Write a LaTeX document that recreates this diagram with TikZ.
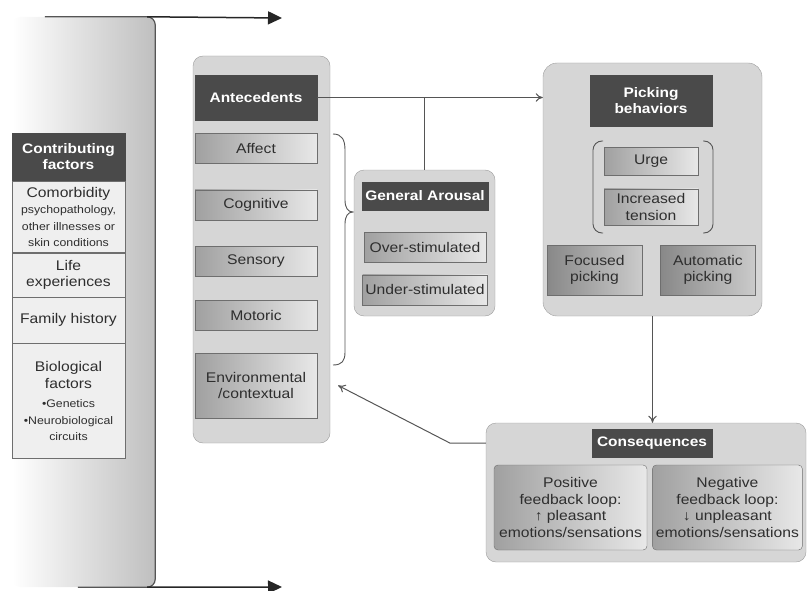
\documentclass[tikz,border=0pt]{standalone}
\usepackage{fontspec}
\setmainfont{Liberation Sans}[FakeStretch=1.12]
\usepackage{tikz}
\usetikzlibrary{arrows.meta,positioning}
\definecolor{hdrfill}{HTML}{4A4A4A}
\definecolor{panelfill}{HTML}{D6D6D6}
\definecolor{panelline}{HTML}{9C9C9C}
\definecolor{itemdark}{HTML}{A0A0A0}
\definecolor{itemlight}{HTML}{E8E8E8}
\definecolor{itemline}{HTML}{6E6E6E}
\definecolor{cffill}{HTML}{EFEFEF}
\definecolor{txt}{HTML}{2E2E2E}
\definecolor{lineclr}{HTML}{555555}
\newcommand\bodyfont{\fontsize{14}{16.5}\selectfont}
\newcommand\hdrfont{\fontsize{13.8}{16.5}\selectfont\bfseries}
\newcommand\smalltxt{\fontsize{11}{12.5}\selectfont}

\begin{document}
\begin{tikzpicture}[
x=1pt,y=-1pt,
panel/.style={draw=panelline,fill=panelfill,rounded corners=10pt},
hdr/.style={draw=hdrfill,fill=hdrfill,text=white,font=\hdrfont,align=center,inner sep=1pt},
item/.style={draw=itemline,left color=itemdark,right color=itemlight,text=txt,font=\bodyfont,align=center,inner sep=1pt},
darkitem/.style={item,left color=itemdark!85!black,right color=itemdark!55!white},
cfbox/.style={draw=itemline,fill=cffill,text=txt,font=\bodyfont,align=center,minimum width=113pt,inner sep=1pt},
paren/.style={draw=lineclr,line width=0.9pt,rounded corners=9pt},
arr/.style={-{To[length=2.5mm,width=3mm]},line width=1pt,color=lineclr},
bigarr/.style={-{Triangle[length=14pt,width=13pt]},line width=1.5pt,color=black!85}
]
\useasboundingbox (0,0) rectangle (808,591);

\node[minimum width=143pt,minimum height=570pt,rounded corners=8pt,left color=white,right color=black!25] (col) at (83.5,302) {};
\draw[lineclr,line width=1.2pt,rounded corners=8pt] ([xshift=33pt]col.north west)--(col.north east)--(col.south east)--([xshift=66pt]col.south west);
\coordinate (toptip) at (282,18);
\coordinate (bottip) at (282,587);
\draw[bigarr] ([xshift=-8pt]col.north east)--(toptip);
\draw[bigarr] ([xshift=-8pt]col.south east)--(bottip);

\node[hdr,minimum width=113pt,minimum height=47pt] (cfhead) at (68.5,156.5) {Contributing\\factors};
\node[cfbox,minimum height=71pt,below=1pt of cfhead] (como) {Comorbidity\\\smalltxt psychopathology,\\\smalltxt other illnesses or\\\smalltxt skin conditions};
\node[cfbox,minimum height=44pt,below=0pt of como] (life) {Life\\experiences};
\node[cfbox,minimum height=46pt,below=0pt of life] (fam) {Family history};
\node[cfbox,minimum height=115pt,below=0pt of fam] (bio) {Biological\\factors\\[3pt]\smalltxt \textbullet Genetics\\\smalltxt \textbullet Neurobiological\\\smalltxt circuits};

\node[panel,minimum width=137pt,minimum height=387pt] (antepanel) at (261.5,249.5) {};
\node[hdr,minimum width=122pt,minimum height=45pt] (antehead) at (256,97.5) {Antecedents};
\node[item,minimum width=122pt,minimum height=30pt,below=13pt of antehead] (affect) {Affect};
\node[item,minimum width=122pt,minimum height=30pt,below=26pt of affect] (cogn) {Cognitive};
\node[item,minimum width=122pt,minimum height=30pt,below=26pt of cogn] (sens) {Sensory};
\node[item,minimum width=122pt,minimum height=30pt,below=24pt of sens] (motor) {Motoric};
\node[item,minimum width=122pt,minimum height=65pt,below=22pt of motor] (env) {Environmental\\/contextual};
\draw[paren,rounded corners=0pt] (333,134) .. controls (342,134) and (345,140) .. (345,150)--(345,200) .. controls (345,208) and (348,212) .. (353,212) .. controls (348,212) and (345,216) .. (345,224)--(345,352) .. controls (345,361) and (342,365) .. (333,365);

\node[panel,minimum width=141pt,minimum height=146pt] (arpanel) at (424.5,243) {};
\node[hdr,minimum width=126pt,minimum height=28pt] (arhead) at (425,196) {General Arousal};
\node[item,minimum width=122pt,minimum height=30pt,below=22pt of arhead] (over) {Over-stimulated};
\node[item,minimum width=125pt,minimum height=30pt,below=12pt of over] (under) {Under-stimulated};

\node[panel,minimum width=219pt,minimum height=253pt,rounded corners=14pt] (pkpanel) at (652.5,189.5) {};
\node[hdr,minimum width=122pt,minimum height=51pt] (pkhead) at (651,100.5) {Picking\\behaviors};
\node[item,minimum width=94pt,minimum height=28pt,below=21pt of pkhead] (urge) {Urge};
\node[item,minimum width=94pt,minimum height=36pt,below=13pt of urge] (tension) {Increased\\tension};
\draw[paren] (603,141)--(593,141)--(593,233)--(603,233);
\draw[paren] (703,141)--(713,141)--(713,233)--(703,233);
\node[darkitem,minimum width=95pt,minimum height=50pt] (focus) at (594.5,270) {Focused\\picking};
\node[darkitem,minimum width=95pt,minimum height=50pt,right=18pt of focus] (auto) {Automatic\\picking};

\node[panel,minimum width=320pt,minimum height=139pt] (cqpanel) at (646,492.5) {};
\node[hdr,minimum width=120pt,minimum height=28pt] (cqhead) at (652,443) {Consequences};
\node[item,rounded corners=4pt,minimum width=153pt,minimum height=85pt] (pos) at (570.5,507.5) {Positive\\feedback loop:\\↑ pleasant\\emotions/sensations};
\node[item,rounded corners=4pt,minimum width=150pt,minimum height=85pt,right=5pt of pos] (neg) {Negative\\feedback loop:\\↓ unpleasant\\emotions/sensations};

\coordinate (envin) at ([xshift=8pt]antepanel.east |- env.east);
\draw[arr] (antehead.east)--(antehead.east -| pkpanel.west);
\draw[line width=1pt,lineclr] (antehead.east -| arpanel.north)--(arpanel.north);
\draw[arr] (pkpanel.south)--(pkpanel.south |- cqpanel.north);
\draw[arr] (cqpanel.west |- cqhead.center)--++(-36,0)--(envin);
\end{tikzpicture}
\end{document}
